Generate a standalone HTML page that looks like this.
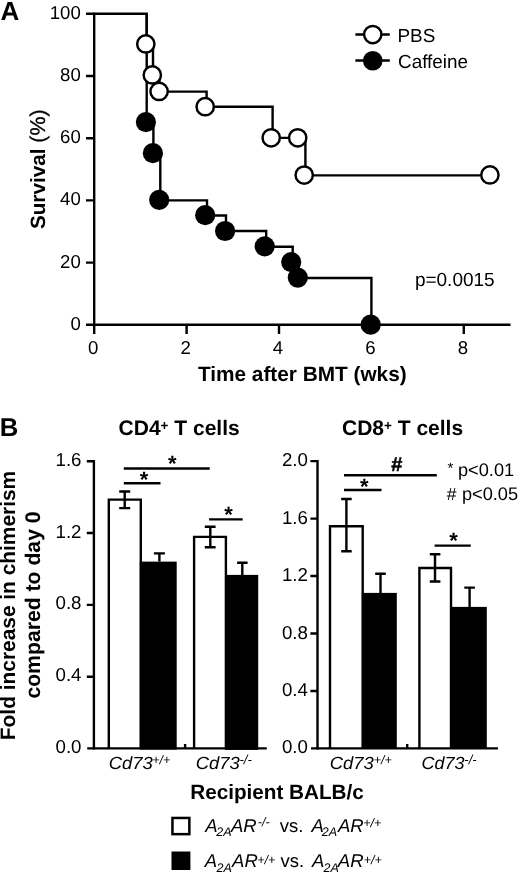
<!DOCTYPE html>
<html><head><meta charset="utf-8"><style>
html,body{margin:0;padding:0;background:#fff;width:520px;height:872px;overflow:hidden}
svg{display:block;-webkit-font-smoothing:antialiased;will-change:transform}
text{text-rendering:geometricPrecision}
text{font-family:"Liberation Sans",sans-serif;fill:#000}
.b{font-weight:bold}
.i{font-style:italic}
</style></head><body>
<svg width="520" height="872" viewBox="0 0 520 872">
<rect width="520" height="872" fill="#fff"/>
<!-- ============ PANEL A ============ -->
<text class="b" x="0.55" y="19.6" font-size="26">A</text>
<g stroke="#000" stroke-width="2.4" fill="none">
  <!-- y axis -->
  <path d="M94.2,12.7 V325.9"/>
  <path d="M86,13.8 H94.2 M86,76 H94.2 M86,138.2 H94.2 M86,200.4 H94.2 M86,262.6 H94.2"/>
  <!-- x axis -->
  <path d="M86,324.8 H510.5"/>
  <path d="M94.2,324.8 V334 M186.6,324.8 V334 M279,324.8 V334 M371.4,324.8 V334 M463.8,324.8 V334"/>
  <!-- PBS step -->
  <path d="M94.2,13.8 H146.7 V43.9 H153 V74.9 H159.5 V91.6 H206.6 V106.7 H272.6 V137.9 H305.4 V175.4 H489.5"/>
  <!-- Caffeine step -->
  <path d="M146.7,13.8 V122.2 H153.4 V153.2 H160.3 V200.4 H207 V215.5 H226 V231 H266.2 V246.7 H292.7 V262.4 H298.5 V278 H371.4 V324.8"/>
  <!-- legend lines -->
  <path d="M355.4,34.5 H389.8 M355.4,60.5 H389.8"/>
</g>
<g fill="#fff" stroke="#000" stroke-width="2.45">
  <circle cx="145.8" cy="43.9" r="8.65"/>
  <circle cx="152.3" cy="74.9" r="8.65"/>
  <circle cx="159.1" cy="91.4" r="8.65"/>
  <circle cx="205.2" cy="106.7" r="8.65"/>
  <circle cx="271.2" cy="137.8" r="8.65"/>
  <circle cx="297.7" cy="137.8" r="8.65"/>
  <circle cx="304.2" cy="175.1" r="8.65"/>
  <circle cx="489.9" cy="174.9" r="8.65"/>
  <circle cx="372.75" cy="34.6" r="8.65"/>
</g>
<g fill="#000">
  <circle cx="145.9" cy="122.1" r="10.1"/>
  <circle cx="152.9" cy="153.2" r="10.1"/>
  <circle cx="159.2" cy="199.8" r="10.1"/>
  <circle cx="205.2" cy="215.2" r="10.1"/>
  <circle cx="225.1" cy="231" r="10.1"/>
  <circle cx="264.7" cy="246.3" r="10.1"/>
  <circle cx="291.2" cy="262.1" r="10.1"/>
  <circle cx="297.8" cy="277.6" r="10.1"/>
  <circle cx="370.7" cy="324.7" r="10.1"/>
  <circle cx="372.75" cy="60.8" r="9.8"/>
</g>
<g font-size="18.6" text-anchor="end">
  <text x="80.8" y="18.7">100</text>
  <text x="80.8" y="80.9">80</text>
  <text x="80.8" y="143.1">60</text>
  <text x="80.8" y="205.3">40</text>
  <text x="80.8" y="267.5">20</text>
  <text x="80.8" y="329.6">0</text>
</g>
<g font-size="18.6" text-anchor="middle">
  <text x="93.2" y="353.6">0</text>
  <text x="185.6" y="353.6">2</text>
  <text x="278" y="353.6">4</text>
  <text x="370.4" y="353.6">6</text>
  <text x="462.8" y="353.6">8</text>
</g>
<text font-size="18.9" x="397.5" y="41.6">PBS</text>
<text font-size="18.9" x="398" y="67.8">Caffeine</text>
<text font-size="19" x="414.9" y="285.8">p=0.0015</text>
<text class="b" font-size="20.7" transform="translate(44.8,229.1) rotate(-90)">Survival<tspan font-weight="normal" font-size="21.4" stroke="#000" stroke-width="0.3"> (%)</tspan></text>
<text class="b" font-size="20.8" x="197.9" y="380.8">Time after BMT (wks)</text>

<!-- ============ PANEL B ============ -->
<text class="b" x="-0.3" y="435.5" font-size="25.7">B</text>
<text class="b" font-size="21" x="118.6" y="435">CD4<tspan font-size="13.5" dy="-4.7">+</tspan><tspan dy="4.7"> T cells</tspan></text>
<text class="b" font-size="21" x="342" y="435">CD8<tspan font-size="13.5" dy="-4.7">+</tspan><tspan dy="4.7"> T cells</tspan></text>
<g class="b" font-size="20.9" text-anchor="middle">
  <text transform="translate(14.9,605.5) rotate(-90)">Fold increase in chimerism</text>
  <text transform="translate(40.1,605) rotate(-90)" font-size="21.2">compared to day 0</text>
</g>
<!-- CD4 chart -->
<rect x="139.8" y="561.6" width="36.9" height="188" fill="#000"/>
<rect x="225" y="574.9" width="33.2" height="175" fill="#000"/>
<g stroke="#000" stroke-width="2.4" fill="none">
  <path d="M93.9,460.1 V749.4"/>
  <path d="M86.8,461.2 H93.9 M86.8,533 H93.9 M86.8,604.9 H93.9 M86.8,676.7 H93.9"/>
  <path d="M87.2,748.35 H266.8 M185.1,748.35 V744"/>
  <path d="M108.8,748.4 V499.6 H140.8 V748.4"/>
  <path d="M194.1,748.4 V536.9 H225.9 V748.4"/>
  <path d="M124.7,491.5 V508.1 M119.2,491.5 H130.2 M119.2,508.1 H130.2"/>
  <path d="M159.4,553.4 V561.5 M153.9,553.4 H164.9"/>
  <path d="M210.3,526.8 V547.2 M204.8,526.8 H215.6 M204.8,547.2 H215.6"/>
  <path d="M242.3,562.7 V575.5 M237.1,562.7 H247.6"/>
  <path d="M123.8,483.2 H160.5 M123.8,468.5 H209.7 M209.1,519.4 H242.7"/>
</g>
<g class="b" font-size="22" text-anchor="middle">
  <text x="144.05" y="486.8">*</text>
  <text x="172.3" y="470.9">*</text>
  <text x="228.5" y="522.3">*</text>
</g>
<g font-size="18.7" text-anchor="end">
  <text x="81.5" y="465.6">1.6</text>
  <text x="81.5" y="537.5">1.2</text>
  <text x="81.5" y="609.4">0.8</text>
  <text x="81.5" y="681.2">0.4</text>
  <text x="81.5" y="752.9">0.0</text>
</g>
<!-- CD8 chart -->
<rect x="361.9" y="592.9" width="34.9" height="156" fill="#000"/>
<rect x="450.4" y="606.9" width="36.4" height="142" fill="#000"/>
<g stroke="#000" stroke-width="2.4" fill="none">
  <path d="M317.5,460 V749.4"/>
  <path d="M310.4,461.1 H317.5 M310.4,518.6 H317.5 M310.4,576 H317.5 M310.4,633.5 H317.5 M310.4,691 H317.5"/>
  <path d="M311,748.35 H498 M407.2,748.35 V744"/>
  <path d="M330,748.4 V526.3 H362.7 V748.4"/>
  <path d="M419.4,748.4 V568 H451 V748.4"/>
  <path d="M346.4,499 V551.3 M341.2,499 H351.7 M341.2,551.3 H351.7"/>
  <path d="M380.5,573.8 V594.5 M375.2,573.8 H385.8"/>
  <path d="M435,554.2 V581.5 M429.8,554.2 H440.4 M429.8,581.5 H440.4"/>
  <path d="M469.6,587.6 V607.5 M464.3,587.6 H474.9"/>
  <path d="M344,490 H381.5 M344,475.2 H436.8 M434.6,545.6 H470.8"/>
</g>
<g class="b" font-size="22" text-anchor="middle">
  <text x="364.2" y="494.4">*</text>
  <text x="453.5" y="547.6">*</text>
</g>
<text class="b" font-size="20" text-anchor="middle" x="396.9" y="470.7" stroke="#000" stroke-width="0.5">#</text>
<g font-size="18.7" text-anchor="end">
  <text x="307.9" y="466.1">2.0</text>
  <text x="307.9" y="523.6">1.6</text>
  <text x="307.9" y="581">1.2</text>
  <text x="307.9" y="638.5">0.8</text>
  <text x="307.9" y="696">0.4</text>
  <text x="307.9" y="752.7">0.0</text>
</g>
<text font-size="15" x="447.5" y="472.8">*</text>
<g font-size="18.2">
  <text x="458" y="475.8">p&lt;0.01</text>
  <text x="461.9" y="499.6">p&lt;0.05</text>
</g>
<text font-size="17.5" x="446.8" y="499.6">#</text>
<!-- x category labels -->
<g class="i" font-size="17.6">
  <text x="108.75" y="768.5" textLength="44.1" lengthAdjust="spacingAndGlyphs">Cd73</text>
  <text x="195.7" y="768.5" textLength="44.1" lengthAdjust="spacingAndGlyphs">Cd73</text>
  <text x="329.8" y="768.5" textLength="44" lengthAdjust="spacingAndGlyphs">Cd73</text>
  <text x="421.6" y="768.5" textLength="43" lengthAdjust="spacingAndGlyphs">Cd73</text>
</g>
<g class="i" font-size="12.5">
  <text x="152.2" y="764.1">+/+</text>
  <text x="373.7" y="764.1">+/+</text>
</g>
<g class="i" font-size="13">
  <text x="239.5" y="764">-/-</text>
  <text x="464.3" y="764">-/-</text>
</g>
<text class="b" font-size="20.7" x="190.2" y="798.8">Recipient BALB/c</text>
<!-- legend -->
<rect x="172.45" y="817.95" width="16.9" height="16.2" fill="none" stroke="#000" stroke-width="2.5"/>
<rect x="171.5" y="851.5" width="18.9" height="18.5" fill="#000"/>
<g class="i" font-size="18.5">
  <text x="205.2" y="832">A</text>
  <text x="230.9" y="832">AR</text>
  <text x="311.6" y="832">A</text>
  <text x="337.9" y="832">AR</text>
  <text x="204.7" y="867.3">A</text>
  <text x="232.1" y="867.3">AR</text>
  <text x="312" y="867.3">A</text>
  <text x="337.8" y="867.3">AR</text>
</g>
<g class="i" font-size="12.5">
  <text x="216.3" y="836.3">2A</text>
  <text x="321.7" y="836.3">2A</text>
  <text x="216.5" y="871.6">2A</text>
  <text x="323.6" y="871.6">2A</text>
  <text x="363.2" y="827">+/+</text>
  <text x="257.2" y="863.7">+/+</text>
  <text x="363.8" y="863.7">+/+</text>
</g>
<text class="i" font-size="12.5" x="257.8" y="826.3">-/-</text>
<g font-size="18.5">
  <text x="279.8" y="832">vs.</text>
  <text x="280.5" y="867.3">vs.</text>
</g>
</svg>
</body></html>
